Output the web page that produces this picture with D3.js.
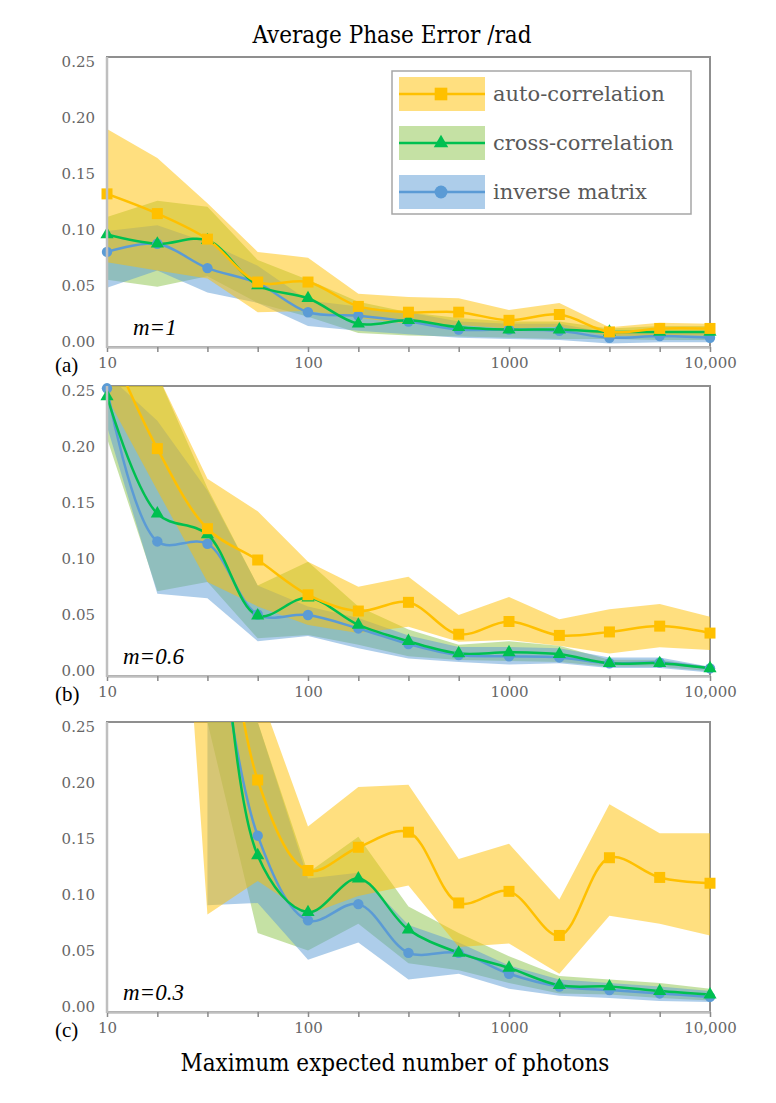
<!DOCTYPE html>
<html>
<head>
<meta charset="utf-8">
<script src="https://cdn.jsdelivr.net/npm/d3@7"></script>
<style>
  body { margin: 0; background: #fff; }
</style>
</head>
<body>
<div id="chart"></div>
<script>
// photon counts, one point every quarter decade
var photons = [10, 17.8, 31.6, 56.2, 100, 178, 316, 562, 1000, 1780, 3160, 5620, 10000];
var xLabelValues = [10, 100, 1000, 10000];
var xLabelTexts = ["10", "100", "1000", "10,000"];
var yTicks = [0, 0.05, 0.10, 0.15, 0.20, 0.25];
var seriesNames = ["auto-correlation", "cross-correlation", "inverse matrix"];
var panelLetters = ["(a)", "(b)", "(c)"];
var mLabels = ["m=1", "m=0.6", "m=0.3"];

// (a) m=1
var autoA    = [0.132, 0.115, 0.093, 0.056, 0.056, 0.035, 0.030, 0.030, 0.023, 0.028, 0.013, 0.016, 0.016];
var autoLoA  = [0.073, 0.066, 0.059, 0.030, 0.031, 0.025, 0.020, 0.019, 0.016, 0.0175, 0.0095, 0.010, 0.010];
var autoHiA  = [0.188, 0.163, 0.124, 0.082, 0.077, 0.046, 0.043, 0.042, 0.032, 0.038, 0.017, 0.021, 0.020];
var crossA   = [0.097, 0.089, 0.092, 0.053, 0.042, 0.020, 0.023, 0.017, 0.015, 0.015, 0.013, 0.013, 0.013];
var crossLoA = [0.058, 0.052, 0.061, 0.038, 0.026, 0.012, 0.010, 0.009, 0.008, 0.007, 0.007, 0.006, 0.006];
var crossHiA = [0.112, 0.126, 0.121, 0.075, 0.058, 0.039, 0.030, 0.025, 0.022, 0.022, 0.016, 0.018, 0.018];
var invA     = [0.082, 0.089, 0.068, 0.055, 0.030, 0.027, 0.022, 0.015, 0.015, 0.014, 0.008, 0.0095, 0.008];
var invLoA   = [0.051, 0.066, 0.047, 0.038, 0.018, 0.014, 0.011, 0.008, 0.007, 0.006, 0.003, 0.004, 0.004];
var invHiA   = [0.100, 0.105, 0.090, 0.070, 0.040, 0.035, 0.030, 0.022, 0.020, 0.020, 0.012, 0.013, 0.012];

// (b) m=0.6
var autoB    = [0.29, 0.196, 0.127, 0.100, 0.070, 0.056, 0.0635, 0.036, 0.047, 0.035, 0.038, 0.043, 0.037];
var autoLoB  = [0.24, 0.16, 0.081, 0.060, 0.044, 0.037, 0.0425, 0.0296, 0.031, 0.026, 0.0195, 0.0247, 0.0224];
var autoHiB  = [0.40, 0.26, 0.17, 0.142, 0.0985, 0.077, 0.0856, 0.0526, 0.068, 0.049, 0.0575, 0.062, 0.051];
var crossB   = [0.241, 0.14, 0.122, 0.052, 0.0675, 0.044, 0.030, 0.0195, 0.0204, 0.0187, 0.011, 0.011, 0.0066];
var crossLoB = [0.205, 0.073, 0.081, 0.0325, 0.0353, 0.027, 0.017, 0.0138, 0.013, 0.012, 0.008, 0.008, 0.004];
var crossHiB = [0.26, 0.26, 0.162, 0.078, 0.0985, 0.060, 0.040, 0.027, 0.030, 0.026, 0.014, 0.014, 0.008];
var invB     = [0.248, 0.116, 0.114, 0.053, 0.0526, 0.041, 0.0276, 0.018, 0.017, 0.016, 0.011, 0.0115, 0.0066];
var invLoB   = [0.215, 0.071, 0.067, 0.030, 0.0345, 0.024, 0.015, 0.012, 0.010, 0.011, 0.007, 0.007, 0.003];
var invHiB   = [0.26, 0.22, 0.16, 0.078, 0.060, 0.050, 0.035, 0.025, 0.025, 0.024, 0.016, 0.016, 0.008];

// (c) m=0.3
var autoC    = [null, null, 0.50, 0.200, 0.122, 0.142, 0.155, 0.094, 0.104, 0.066, 0.133, 0.116, 0.111];
var autoLoC  = [null, 0.70, 0.084, 0.113, 0.084, 0.100, 0.109, 0.056, 0.059, 0.033, 0.083, 0.076, 0.066];
var autoHiC  = [null, 1.50, 1.20, 0.28, 0.16, 0.194, 0.196, 0.132, 0.145, 0.097, 0.179, 0.154, 0.154];
var crossC   = [null, null, 0.60, 0.135, 0.086, 0.115, 0.071, 0.051, 0.038, 0.023, 0.022, 0.018, 0.015];
var crossLoC = [null, null, 0.25, 0.068, 0.053, 0.076, 0.042, 0.036, 0.025, 0.016, 0.015, 0.012, 0.010];
var crossHiC = [null, null, 1.00, 0.25, 0.12, 0.151, 0.091, 0.068, 0.048, 0.031, 0.028, 0.025, 0.020];
var invC     = [null, null, 0.40, 0.152, 0.079, 0.093, 0.051, 0.051, 0.033, 0.022, 0.019, 0.016, 0.013];
var invLoC   = [null, null, 0.092, 0.094, 0.045, 0.060, 0.028, 0.033, 0.020, 0.014, 0.012, 0.0095, 0.0087];
var invHiC   = [null, null, 0.90, 0.25, 0.115, 0.12, 0.075, 0.060, 0.040, 0.028, 0.025, 0.022, 0.018];

var svgWidth = 776, svgHeight = 1103;
var plotLeft = 107, plotRight = 710, plotH = 290;
var panelTops = [57, 386, 722];

var yellow = "#FFC000", green = "#00C050", blue = "#5B9BD5";
var yellowFill = "#FFC000", greenFill = "#8BC34A", blueFill = "#5B9BD5";
var serif = "'DejaVu Serif', serif";
var titleFont = "'DejaVu Serif Condensed', 'DejaVu Serif', serif";

var svg = d3.select("#chart").append("svg")
  .attr("width", svgWidth)
  .attr("height", svgHeight);

var x = d3.scaleLog().domain([10, 10000]).range([plotLeft, plotRight]);

// build per-panel tables from the arrays above
var panels = [
  { auto: autoA, autoLo: autoLoA, autoHi: autoHiA, cross: crossA, crossLo: crossLoA, crossHi: crossHiA, inv: invA, invLo: invLoA, invHi: invHiA },
  { auto: autoB, autoLo: autoLoB, autoHi: autoHiB, cross: crossB, crossLo: crossLoB, crossHi: crossHiB, inv: invB, invLo: invLoB, invHi: invHiB },
  { auto: autoC, autoLo: autoLoC, autoHi: autoHiC, cross: crossC, crossLo: crossLoC, crossHi: crossHiC, inv: invC, invLo: invLoC, invHi: invHiC }
];

function symbolPath(type, size) {
  return d3.symbol().type(type).size(size)();
}

panels.forEach(function(p, i) {
  var top = panelTops[i], bottom = top + plotH;
  var y = d3.scaleLinear().domain([0, 0.25]).range([bottom, top]);
  // tick labels sit slightly inside the frame in the original
  var yLab = d3.scaleLinear().domain([0, 0.25]).range([bottom - 5, top + 5]);

  var g = svg.append("g");
  var clipId = "clip" + i;
  g.append("clipPath").attr("id", clipId)
    .append("rect")
    .attr("x", plotLeft).attr("y", top)
    .attr("width", plotRight - plotLeft).attr("height", plotH);

  // frame (top / right)
  g.append("rect")
    .attr("x", plotLeft).attr("y", top)
    .attr("width", plotRight - plotLeft).attr("height", plotH)
    .attr("fill", "none")
    .attr("stroke", "#8f8f8f")
    .attr("stroke-width", 2);

  var series = [
    { key: "cross", lo: p.crossLo, hi: p.crossHi, mean: p.cross, color: green, fill: greenFill, sym: d3.symbolTriangle, size: 75 },
    { key: "inv", lo: p.invLo, hi: p.invHi, mean: p.inv, color: blue, fill: blueFill, sym: d3.symbolCircle, size: 85 },
    { key: "auto", lo: p.autoLo, hi: p.autoHi, mean: p.auto, color: yellow, fill: yellowFill, sym: d3.symbolSquare, size: 121 }
  ];

  var clipped = g.append("g").attr("clip-path", "url(#" + clipId + ")");

  // bands: green, blue, then yellow on top
  series.forEach(function(s) {
    var area = d3.area()
      .defined(function(d, k) { return s.lo[k] != null && s.hi[k] != null; })
      .x(function(d, k) { return x(photons[k]); })
      .y0(function(d, k) { return y(s.lo[k]); })
      .y1(function(d, k) { return y(s.hi[k]); });
    clipped.append("path")
      .datum(photons)
      .attr("d", area)
      .attr("fill", s.fill)
      .attr("fill-opacity", 0.5);
  });

  // lines: blue, green, yellow
  var lineOrder = [series[1], series[0], series[2]];
  lineOrder.forEach(function(s) {
    var line = d3.line()
      .defined(function(d, k) { return s.mean[k] != null; })
      .x(function(d, k) { return x(photons[k]); })
      .y(function(d, k) { return y(s.mean[k]); })
      .curve(d3.curveCatmullRom);
    clipped.append("path")
      .datum(photons)
      .attr("d", line)
      .attr("fill", "none")
      .attr("stroke", s.color)
      .attr("stroke-width", 2.5);
  });
  lineOrder.forEach(function(s) {
    var pts = photons.map(function(v, k) { return { x: v, v: s.mean[k] }; })
      .filter(function(d) { return d.v != null && d.v <= 0.252; });
    g.selectAll(null)
      .data(pts)
      .enter()
      .append("path")
      .attr("d", symbolPath(s.sym, s.size))
      .attr("transform", function(d) { return "translate(" + x(d.x) + "," + y(d.v) + ")"; })
      .attr("fill", s.color);
  });

  // x axis with quarter-decade ticks
  var xAxis = d3.axisBottom(x)
    .tickValues(photons)
    .tickSize(5)
    .tickSizeOuter(0)
    .tickFormat(function(d) {
      var idx = xLabelValues.indexOf(d);
      return idx >= 0 ? xLabelTexts[idx] : "";
    });
  var xg = g.append("g")
    .attr("transform", "translate(0," + bottom + ")")
    .call(xAxis);
  xg.select(".domain").attr("stroke", "#bfbfbf").attr("stroke-width", 2.5);
  xg.selectAll(".tick line").attr("stroke", "#8a8a8a").attr("stroke-width", 1.5);
  xg.selectAll(".tick text")
    .attr("y", 10)
    .attr("font-family", serif)
    .attr("font-size", 15)
    .attr("fill", "#666");

  // left axis line
  g.append("line")
    .attr("x1", plotLeft).attr("x2", plotLeft)
    .attr("y1", top).attr("y2", bottom + 1)
    .attr("stroke", "#bfbfbf")
    .attr("stroke-width", 2.5);

  var yAxis = d3.axisLeft(yLab)
    .tickValues(yTicks)
    .tickSize(0)
    .tickPadding(12)
    .tickFormat(d3.format(".2f"));
  var yg = g.append("g")
    .attr("transform", "translate(" + plotLeft + ",0)")
    .call(yAxis);
  yg.select(".domain").remove();
  yg.selectAll(".tick text")
    .attr("font-family", serif)
    .attr("font-size", 15)
    .attr("fill", "#666");

  // panel letter and modulation label
  g.append("text")
    .attr("x", 55).attr("y", bottom + 25)
    .attr("font-family", "'Liberation Serif', serif")
    .attr("font-size", 21)
    .text(panelLetters[i]);

  g.append("text")
    .attr("x", i === 0 ? 133 : 123).attr("y", bottom - 12)
    .attr("font-family", "'Liberation Serif', serif")
    .attr("font-style", "italic")
    .attr("font-size", 23)
    .text(mLabels[i]);
});

// legend inside panel (a)
var legend = svg.append("g");
legend.append("rect")
  .attr("x", 392).attr("y", 71)
  .attr("width", 299).attr("height", 143)
  .attr("fill", "#fff")
  .attr("stroke", "#a6a6a6")
  .attr("stroke-width", 1.5);

var legendItems = [
  { color: yellow, fill: yellowFill, sym: d3.symbolSquare, size: 160 },
  { color: green, fill: greenFill, sym: d3.symbolTriangle, size: 90 },
  { color: blue, fill: blueFill, sym: d3.symbolCircle, size: 130 }
];
legendItems.forEach(function(it, k) {
  var cy = 94 + k * 49;
  legend.append("rect")
    .attr("x", 399).attr("y", cy - 17)
    .attr("width", 86).attr("height", 34)
    .attr("fill", it.fill)
    .attr("fill-opacity", 0.5);
  legend.append("line")
    .attr("x1", 399).attr("x2", 485)
    .attr("y1", cy).attr("y2", cy)
    .attr("stroke", it.color)
    .attr("stroke-width", 2.5);
  legend.append("path")
    .attr("d", symbolPath(it.sym, it.size))
    .attr("transform", "translate(441," + cy + ")")
    .attr("fill", it.color);
  legend.append("text")
    .attr("x", 493).attr("y", cy + 7)
    .attr("font-family", serif)
    .attr("font-size", 21)
    .attr("fill", "#595959")
    .text(seriesNames[k]);
});

// titles
svg.append("text")
  .attr("x", 392).attr("y", 43)
  .attr("text-anchor", "middle")
  .attr("font-family", titleFont)
  .attr("font-size", 24)
  .text("Average Phase Error /rad");

svg.append("text")
  .attr("x", 395).attr("y", 1071)
  .attr("text-anchor", "middle")
  .attr("font-family", titleFont)
  .attr("font-size", 24)
  .text("Maximum expected number of photons");
</script>
</body>
</html>
